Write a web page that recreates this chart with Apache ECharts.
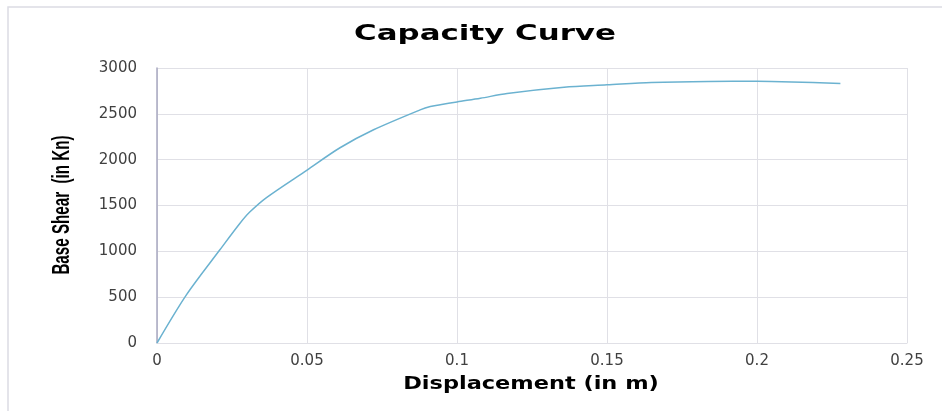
<!DOCTYPE html>
<html>
<head>
<meta charset="utf-8">
<script src="https://cdn.jsdelivr.net/npm/echarts@6/dist/echarts.min.js"></script>
<style>html,body{margin:0;padding:0;background:#fff;}#c{width:942px;height:411px;}</style>
</head>
<body>
<div id="c"></div>
<script>
const displacement = [0, 0.0098, 0.0209, 0.0276, 0.031, 0.0365, 0.0499, 0.061, 0.0722, 0.0877, 0.0911, 0.0944, 0.1, 0.1078, 0.1167, 0.1357, 0.15, 0.1648, 0.1837, 0.2, 0.2116, 0.2278];
const baseShear = [0, 525, 1014, 1304, 1431, 1587, 1884, 2130, 2326, 2543, 2580, 2599, 2630, 2670, 2722, 2790, 2816, 2843, 2854, 2855, 2848, 2830];
const xTicks = [0, 0.05, 0.1, 0.15, 0.2, 0.25];
const yTicks = [0, 500, 1000, 1500, 2000, 2500, 3000];
const chartTitle = 'Capacity Curve';
const xAxisTitle = 'Displacement (in m)';
const yAxisTitle = 'Base Shear  (in Kn)';

const chart = echarts.init(document.getElementById('c'));
chart.setOption({
  animation: false,
  backgroundColor: '#fff',
  graphic: [{
    type: 'rect', shape: {x: 8, y: 7, width: 1000, height: 500},
    style: {fill: 'none', stroke: '#dcdce4', lineWidth: 1.5}, silent: true, z: -1
  }, {
    type: 'text', x: 485, y: 35, scaleX: 1.47, scaleY: 1,
    style: {text: chartTitle, font: 'bold 21px "DejaVu Sans"', fill: '#000',
      textAlign: 'center', textVerticalAlign: 'middle'}
  }, {
    type: 'text', x: 531, y: 385, scaleX: 1.32, scaleY: 1,
    style: {text: xAxisTitle, font: 'bold 17px "DejaVu Sans"', fill: '#000',
      textAlign: 'center', textVerticalAlign: 'middle'}
  }, {
    type: 'text', x: 63, y: 205, rotation: Math.PI / 2, scaleX: 0.66, scaleY: 1,
    style: {text: yAxisTitle, font: 'bold 23px "Liberation Sans"', fill: '#000',
      textAlign: 'center', textVerticalAlign: 'middle'}
  }],
  grid: {left: 157, right: 35, top: 68, bottom: 68},
  xAxis: {
    type: 'value', min: xTicks[0], max: xTicks[xTicks.length - 1], interval: 0.05,
    axisLine: {show: true, lineStyle: {color: '#e0e0e6', width: 1}},
    axisTick: {show: false},
    splitLine: {show: true, lineStyle: {color: '#e0e0e6', width: 1}},
    axisLabel: {margin: 11, fontFamily: 'DejaVu Sans', fontSize: 15, color: '#404040',
      formatter: v => String(Math.round(v * 100) / 100)}
  },
  yAxis: {
    type: 'value', min: yTicks[0], max: yTicks[yTicks.length - 1], interval: 500,
    axisLine: {show: true, lineStyle: {color: '#a8a8c0', width: 1.5}},
    axisTick: {show: false},
    splitLine: {show: true, lineStyle: {color: '#e0e0e6', width: 1}},
    axisLabel: {margin: 20, fontFamily: 'DejaVu Sans', fontSize: 15, color: '#404040',
      formatter: v => String(v)}
  },
  series: [{
    type: 'line', data: displacement.map((x, i) => [x, baseShear[i]]),
    showSymbol: false, smooth: 0.3,
    lineStyle: {color: '#6bb2d0', width: 1.5}
  }]
});
</script>
</body>
</html>
